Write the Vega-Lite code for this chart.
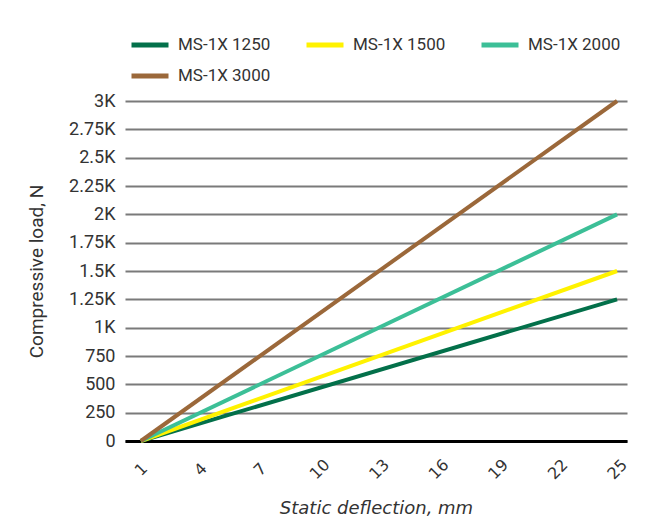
{
  "$schema": "https://vega.github.io/schema/vega-lite/v6.json",
  "width": 502,
  "height": 340,
  "autosize": "none",
  "padding": {"left": 125, "top": 101, "right": 36, "bottom": 86},
  "background": "white",
  "config": {
    "view": {"stroke": null},
    "font": "Roboto"
  },
  "data": {
    "values": [
      {"series": "MS-1X 1250", "deflection": 1, "load": 0},
      {"series": "MS-1X 1250", "deflection": 25, "load": 1250},
      {"series": "MS-1X 1500", "deflection": 1, "load": 0},
      {"series": "MS-1X 1500", "deflection": 25, "load": 1500},
      {"series": "MS-1X 2000", "deflection": 1, "load": 0},
      {"series": "MS-1X 2000", "deflection": 25, "load": 2000},
      {"series": "MS-1X 3000", "deflection": 1, "load": 0},
      {"series": "MS-1X 3000", "deflection": 25, "load": 3000}
    ]
  },
  "mark": {"type": "line", "strokeWidth": 4, "strokeCap": "butt"},
  "encoding": {
    "x": {
      "field": "deflection",
      "type": "quantitative",
      "scale": {"domain": [0.2, 25.5], "nice": false, "zero": false},
      "axis": {
        "title": "Static deflection, mm",
        "titleFont": "DejaVu Sans",
        "titleFontStyle": "italic",
        "titleFontWeight": "normal",
        "titleFontSize": 18,
        "titleColor": "#333333",
        "titlePadding": 18,
        "values": [1, 4, 7, 10, 13, 16, 19, 22, 25],
        "labelAngle": -45,
        "labelAlign": "center",
        "labelBaseline": "middle",
        "labelPadding": 28,
        "labelFont": "DejaVu Sans",
        "labelFontSize": 16,
        "labelColor": "#333333",
        "ticks": false,
        "grid": false,
        "domainColor": "#000000",
        "domainWidth": 3
      }
    },
    "y": {
      "field": "load",
      "type": "quantitative",
      "scale": {"domain": [0, 3000], "nice": false},
      "axis": {
        "title": "Compressive load, N",
        "titleFont": "Roboto",
        "titleFontWeight": "normal",
        "titleFontSize": 19,
        "titleColor": "#333333",
        "titlePadding": 22,
        "values": [0, 250, 500, 750, 1000, 1250, 1500, 1750, 2000, 2250, 2500, 2750, 3000],
        "labelExpr": "datum.value >= 1000 ? (datum.value / 1000) + 'K' : datum.value",
        "labelFontSize": 18,
        "labelColor": "#333333",
        "labelPadding": 10,
        "ticks": false,
        "domain": false,
        "grid": true,
        "gridColor": "#7a7a7a",
        "gridWidth": 2
      }
    },
    "color": {
      "field": "series",
      "type": "nominal",
      "scale": {
        "domain": ["MS-1X 1250", "MS-1X 1500", "MS-1X 2000", "MS-1X 3000"],
        "range": ["#03704a", "#fff200", "#3cbf97", "#9b683a"]
      },
      "legend": {
        "title": null,
        "orient": "none",
        "direction": "horizontal",
        "legendX": 4,
        "legendY": -77,
        "columns": 3,
        "symbolType": "stroke",
        "symbolSize": 1369,
        "symbolStrokeWidth": 5,
        "labelFontSize": 17,
        "labelColor": "#333333",
        "labelOffset": 7,
        "columnPadding": 25,
        "rowPadding": -10
      }
    }
  }
}
